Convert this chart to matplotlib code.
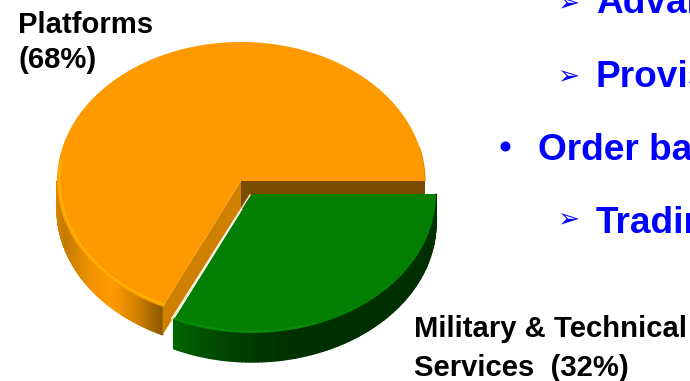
import numpy as np
import matplotlib
matplotlib.use("Agg")
import matplotlib.pyplot as plt
from matplotlib.collections import PolyCollection
from matplotlib.colors import LinearSegmentedColormap
from matplotlib.patches import Polygon, Circle

shares = [68, 32]
labels = [["Platforms", "(68%)"], ["Military & Technical", "Services  (32%)"]]
bullets = ["Advan", "Provis", "Order ba", "Tradin"]

plt.rcParams["font.family"] = ["Liberation Sans", "DejaVu Sans"]
ORANGE, GREEN = "#ff9900", "#038003"

fig = plt.figure(figsize=(6.9, 3.81), dpi=100)
ax = fig.add_axes([0, 0, 1, 1])
ax.set_xlim(0, 690)
ax.set_ylim(381, 0)
ax.axis("off")

RX, RY = 184, 139
split = 360 * shares[0] / sum(shares)  # angle where the first slice ends


def rim(cx, cy, a0, a1, rx=RX, ry=RY, n=240):
    # Ellipse arc; angles run counter-clockwise from east, y axis points down.
    t = np.radians(np.linspace(a0, a1, n))
    return np.column_stack([cx + rx * np.cos(t), cy - ry * np.sin(t)])


def side_wall(cx, cy, a0, a1, stops, depth, z):
    # Outer wall of a slice, shaded along the arc.
    arc = rim(cx, cy, a0, a1, n=90)
    quads = [[arc[i], arc[i + 1], arc[i + 1] + [0, depth], arc[i] + [0, depth]]
             for i in range(len(arc) - 1)]
    shade = LinearSegmentedColormap.from_list("wall", stops)
    cols = shade(np.linspace(0, 1, len(quads)))
    ax.add_collection(PolyCollection(quads, facecolors=cols, edgecolors=cols,
                                     linewidths=1.0, zorder=z))


# First slice: centre and angular span taken from its share
ocx, ocy, odepth = 241, 181, 28
side_wall(ocx, ocy, 180, split,
          ["#e08c00", "#d08000", "#c67c00", "#d98700", "#f59400", "#ff9a00",
           "#d68400", "#8f5a00"], odepth, 1)
o_pts = np.vstack([[ocx, ocy], rim(ocx, ocy, 0, split)])
end = rim(ocx, ocy, split, split, n=1)[0]
ax.add_patch(Polygon([(ocx, ocy), (ocx + RX, ocy), (ocx + RX, ocy + odepth), (ocx, ocy + odepth)],
                     fc="#7a4c00", ec="none", zorder=2))
ax.add_patch(Polygon([(ocx, ocy), end, end + [0, odepth], (ocx, ocy + odepth)],
                     fc="#d08000", ec="none", zorder=2))
ax.add_patch(Polygon(o_pts, fc=ORANGE, ec="none", zorder=3))
ax.plot(*rim(ocx, ocy, 0, 14).T, color="#e08c00", lw=0.8, zorder=4)
ax.plot(*rim(ocx, ocy, 172, split, RX - 2.5, RY - 2.5).T, color="#ffb400", lw=1.4, zorder=4)

# Second slice, pulled out towards the lower right
gcx, gcy, gdepth = 252, 194, 29
side_wall(gcx, gcy, split, 360,
          ["#006400", "#004400", "#003200", "#003000", "#003000", "#003000",
           "#003000", "#003400"], gdepth, 5)
g_pts = np.vstack([[gcx, gcy], rim(gcx, gcy, split, 360)])
ax.add_patch(Polygon(g_pts, fc=GREEN, ec="none", zorder=6))
ax.plot(*rim(gcx, gcy, split, 290, RX - 1.5, RY - 1.5).T, color="#0a8f0a", lw=1.0, zorder=7)
g_end = rim(gcx, gcy, split, split, n=1)[0]
ax.plot([gcx - 2, g_end[0] - 2], [gcy + 1, g_end[1] - 1], color="#f4f4e8", lw=1.0, zorder=5)

# Slice captions
cap = dict(color="black", fontweight="bold", fontsize=29.3 * 72 / 100, va="baseline", ha="left", zorder=8)
ax.text(18, 33, labels[0][0], **cap)
ax.text(18, 68, labels[0][1], **cap)
ax.text(414, 337, labels[1][0], **cap)
ax.text(414, 376, labels[1][1], **cap)

# Bullet list running off the right-hand side
txt = dict(color="#0000ff", fontweight="bold", fontsize=37 * 72 / 100, va="baseline", ha="left")
arrow = dict(color="#0000ff", family="DejaVu Sans", fontsize=19, va="center", ha="center")
ax.text(596, 13, bullets[0], **txt)
ax.text(596, 87, bullets[1], **txt)
ax.text(538, 160, bullets[2], **txt)
ax.text(596, 233, bullets[3], **txt)
for y in (4.5, 77.5, 220.5):
    ax.text(568, y, "\u27a2", **arrow)
ax.add_patch(Circle((505.5, 146.5), 5, fc="#0000ff", ec="none"))

fig.savefig("out.png", dpi=100)
